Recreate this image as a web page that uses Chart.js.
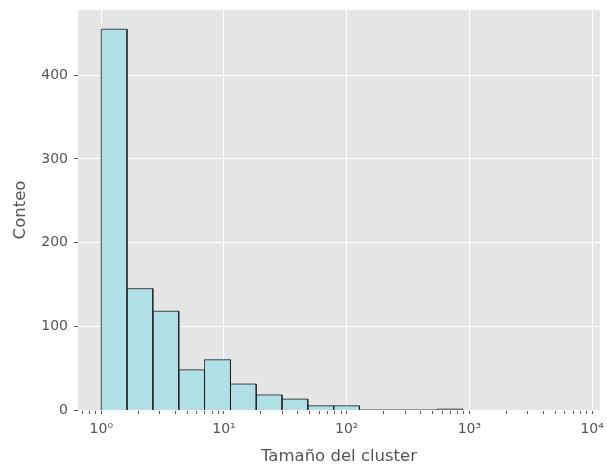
<!DOCTYPE html>
<html>
<head>
<meta charset="utf-8">
<script src="https://cdn.jsdelivr.net/npm/chart.js@4.4.0/dist/chart.umd.min.js"></script>
<style>
  html, body { margin: 0; padding: 0; background: #ffffff; }
  #wrap { width: 607px; height: 471px; }
</style>
</head>
<body>
<div id="wrap"><canvas id="histChart" width="607" height="471"></canvas></div>
<script>
// Bin edges (log spaced) and counts
const binEdges = [1, 1.62, 2.63, 4.28, 6.94, 11.3, 18.3, 29.7, 48.2, 78.3, 127, 206, 335, 544, 882];
const counts = [455, 145, 118, 48, 60, 31, 18, 13, 5, 5, 0, 0, 0, 1];
const xTickValues = [0.7, 0.8, 0.9,
    1, 2, 3, 4, 5, 6, 7, 8, 9,
    10, 20, 30, 40, 50, 60, 70, 80, 90,
    100, 200, 300, 400, 500, 600, 700, 800, 900,
    1000, 2000, 3000, 4000, 5000, 6000, 7000, 8000, 9000, 10000];
const majorLabels = { 1: '10\u2070', 10: '10\u00B9', 100: '10\u00B2', 1000: '10\u00B3', 10000: '10\u2074' };
const yTicks = [0, 100, 200, 300, 400];

const FONT = "'DejaVu Sans', sans-serif";
const TXT = '#555555';

function isMajor(v) {
    return majorLabels[v] !== undefined;
}

// One closed polygon per bin, drawn through the scales
const datasets = counts.map((c, i) => ({
    data: [
        { x: binEdges[i], y: 0 },
        { x: binEdges[i], y: c },
        { x: binEdges[i + 1], y: c },
        { x: binEdges[i + 1], y: 0 }
    ],
    showLine: true,
    fill: 'origin',
    backgroundColor: '#b0e0e6',
    borderColor: 'rgba(30,30,30,0.8)',
    borderWidth: 1,
    pointRadius: 0,
    tension: 0
}));

// Grey panel behind the plot
const panelBg = {
    id: 'panelBg',
    beforeDraw(chart) {
        const { ctx, chartArea: a } = chart;
        ctx.save();
        ctx.fillStyle = '#ffffff';
        ctx.fillRect(0, 0, chart.width, chart.height);
        ctx.fillStyle = '#e5e5e5';
        ctx.fillRect(a.left, a.top, a.right - a.left, a.bottom - a.top);
        ctx.restore();
    }
};

new Chart(document.getElementById('histChart'), {
    type: 'scatter',
    data: { datasets },
    plugins: [panelBg],
    options: {
        responsive: false,
        animation: false,
        layout: { padding: { top: 10, right: 7, left: 0, bottom: 0 } },
        plugins: { legend: { display: false }, tooltip: { enabled: false } },
        scales: {
            x: {
                type: 'logarithmic',
                bounds: 'data',
                min: 0.646,
                max: 11600,
                afterBuildTicks(scale) {
                    scale.ticks = xTickValues.map(v => ({ value: v, major: isMajor(v) }));
                },
                afterFit(scale) {
                    scale.height = 61;
                    scale.paddingLeft = 0;
                    scale.paddingRight = 0;
                },
                border: { display: false },
                grid: {
                    color: ctx => (ctx.tick && isMajor(ctx.tick.value)) ? '#ffffff' : 'rgba(0,0,0,0)',
                    lineWidth: 1,
                    tickColor: TXT,
                    tickLength: 4,
                    drawTicks: true
                },
                ticks: {
                    autoSkip: false,
                    maxRotation: 0,
                    padding: 7,
                    color: TXT,
                    font: { family: FONT, size: 14 },
                    callback: v => majorLabels[v] || ''
                },
                title: {
                    display: true,
                    text: 'Tamaño del cluster',
                    color: TXT,
                    font: { family: FONT, size: 16.5 },
                    padding: { top: 0, bottom: 4 }
                }
            },
            y: {
                min: 0,
                max: 478,
                afterBuildTicks(scale) {
                    scale.ticks = yTicks.map(v => ({ value: v }));
                },
                afterFit(scale) {
                    scale.width = 78;
                    scale.paddingTop = 0;
                    scale.paddingBottom = 0;
                },
                border: { display: false },
                grid: {
                    color: '#ffffff',
                    lineWidth: 1,
                    tickColor: TXT,
                    tickLength: 4
                },
                ticks: {
                    padding: 6,
                    color: TXT,
                    font: { family: FONT, size: 14 }
                },
                title: {
                    display: true,
                    text: 'Conteo',
                    color: TXT,
                    font: { family: FONT, size: 16.5 },
                    padding: { top: 11, bottom: 10 }
                }
            }
        }
    }
});
</script>
</body>
</html>
